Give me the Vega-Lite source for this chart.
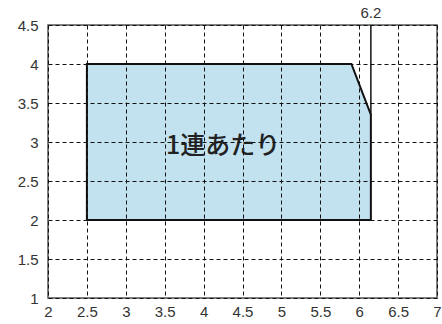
{
  "$schema": "https://vega.github.io/schema/vega-lite/v6.json",
  "width": 389,
  "height": 273,
  "autosize": {"type": "none"},
  "padding": {"left": 48, "top": 25, "right": 5, "bottom": 26},
  "background": "white",
  "config": {
    "view": {"stroke": "#555555", "strokeWidth": 1.5}
  },
  "layer": [
    {
      "data": {"values": [
        {"x": 2.5, "y": 4, "y2": 2},
        {"x": 5.9, "y": 4, "y2": 2},
        {"x": 6.15, "y": 3.35, "y2": 2}
      ]},
      "mark": {"type": "area", "fill": "#c3e2f0", "fillOpacity": 1, "stroke": "#111111", "strokeWidth": 2},
      "encoding": {
        "x": {"field": "x", "type": "quantitative", "scale": {"domain": [2, 7], "nice": false, "zero": false},
          "axis": {"values": [2, 2.5, 3, 3.5, 4, 4.5, 5, 5.5, 6, 6.5, 7], "tickCount": 20, "format": ".1~f", "labelPadding": 6, "labelFlush": false,
            "labelOverlap": false, "grid": true, "gridColor": "#111111", "gridDash": [4, 3], "gridWidth": 1, "gridOpacity": 1,
            "ticks": false, "domain": false, "labelFont": "Liberation Sans", "labelFontSize": 15, "labelColor": "#333333",
            "title": null, "zindex": 1}},
        "y": {"field": "y", "type": "quantitative", "scale": {"domain": [1, 4.5], "nice": false, "zero": false},
          "axis": {"values": [1, 1.5, 2, 2.5, 3, 3.5, 4, 4.5], "tickCount": 20, "format": ".1~f", "labelPadding": 10, "labelFlush": false,
            "labelOverlap": false, "grid": true, "gridColor": "#111111", "gridDash": [4, 3], "gridWidth": 1, "gridOpacity": 1,
            "ticks": false, "domain": false, "labelFont": "Liberation Sans", "labelFontSize": 15, "labelColor": "#333333",
            "title": null, "zindex": 1}},
        "y2": {"field": "y2"}
      }
    },
    {
      "data": {"values": [{"x": 6.15, "y": 3.35, "y2": 4.5}]},
      "mark": {"type": "rule", "stroke": "#111111", "strokeWidth": 1.5},
      "encoding": {
        "x": {"field": "x", "type": "quantitative"},
        "y": {"field": "y", "type": "quantitative"},
        "y2": {"field": "y2"}
      }
    },
    {
      "data": {"values": [{"x": 6.15, "y": 4.5, "label": "6.2"}]},
      "mark": {"type": "text", "dy": -12, "font": "Liberation Sans", "fontSize": 15, "color": "#333333"},
      "encoding": {
        "x": {"field": "x", "type": "quantitative"},
        "y": {"field": "y", "type": "quantitative"},
        "text": {"field": "label"}
      }
    },
    {
      "data": {"values": [{"x": 4.25, "y": 2.95, "label": "1連あたり"}]},
      "mark": {"type": "text", "font": "Noto Sans CJK JP", "fontSize": 25, "fontWeight": 500, "color": "#222222"},
      "encoding": {
        "x": {"field": "x", "type": "quantitative"},
        "y": {"field": "y", "type": "quantitative"},
        "text": {"field": "label"}
      }
    }
  ]
}
